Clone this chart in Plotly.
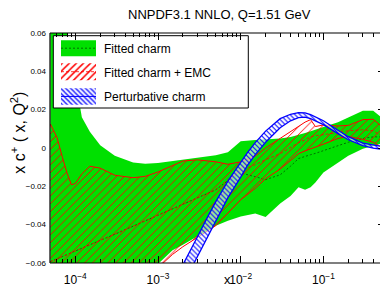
import plotly.graph_objects as go

# ---------------- data ----------------
X = [5e-5, 6e-5, 7e-5, 8e-5, 9e-5, 1e-4, 1.2e-4, 1.5e-4, 2e-4, 3e-4, 5e-4, 7e-4,
     1e-3, 1.5e-3, 2e-3, 3e-3, 5e-3, 7e-3,
     1e-2, 1.5e-2, 2e-2, 3e-2, 4e-2, 5e-2, 6e-2, 7e-2, 8e-2,
     0.1, 0.15, 0.2, 0.3, 0.4, 0.5, 0.6]

fitted_upper = [0.090, 0.080, 0.070, 0.060, 0.048, 0.036, 0.016, 0.0085, 0.0015, -0.0040, -0.0075, -0.0082,
                -0.0078, -0.0068, -0.0062, -0.0052, -0.0038, -0.0022,
                0.0035, 0.0042, 0.0045, 0.0050, 0.0058, 0.0068, 0.0078, 0.0088, 0.0095,
                0.0110, 0.0135, 0.0160, 0.0195, 0.0195, 0.0160, 0.0120]
fitted_lower = [-0.090, -0.090, -0.090, -0.090, -0.090, -0.088, -0.086, -0.084, -0.080, -0.075, -0.070, -0.065,
                -0.0605, -0.0534, -0.0505, -0.0463, -0.0405, -0.0380,
                -0.0358, -0.0342, -0.0360, -0.0290, -0.0250, -0.0205, -0.0218, -0.0205, -0.0180,
                -0.0128, -0.0077, -0.0040, -0.0004, 0.0012, 0.0022, 0.0028]
fitted_central = [-0.0593, -0.0578, -0.0567, -0.0557, -0.0546, -0.0538, -0.0524, -0.0505, -0.0482, -0.0450, -0.0408, -0.0379,
                  -0.0351, -0.0317, -0.0293, -0.0262, -0.0218, -0.0170,
                  -0.0130, -0.0150, -0.0165, -0.0140, -0.0095, -0.0055, -0.0042, -0.0035, -0.0028,
                  -0.0015, 0.0012, 0.0030, 0.0050, 0.0058, 0.0060, 0.0058]

emc_upper = [0.0125, 0.0055, -0.0050, -0.0135, -0.0192, -0.0185, -0.0135, -0.0095, -0.0105, -0.0142, -0.0155, -0.0148,
             -0.0125, -0.0090, -0.0068, -0.0062, -0.0072, -0.0085,
             -0.0072, -0.0042, 0.0000, 0.0050, 0.0085, 0.0112, 0.0135, 0.0148, 0.0112,
             0.0120, 0.0115, 0.0118, 0.0148, 0.0150, 0.0115, 0.0095]
emc_lower = [-0.090, -0.090, -0.090, -0.090, -0.090, -0.088, -0.086, -0.084, -0.080, -0.076, -0.072, -0.067,
             -0.0625, -0.0555, -0.0515, -0.0468, -0.0405, -0.0340,
             -0.0270, -0.0210, -0.0160, -0.0110, -0.0065, -0.0030, -0.0015, -0.0005, 0.0005,
             0.0020, 0.0050, 0.0060, 0.0045, 0.0030, 0.0005, -0.0020]
emc_central = [-0.0593, -0.0578, -0.0567, -0.0557, -0.0546, -0.0538, -0.0524, -0.0505, -0.0482, -0.0450, -0.0408, -0.0379,
               -0.0351, -0.0317, -0.0293, -0.0262, -0.0218, -0.0165,
               -0.0118, -0.0087, -0.0061, -0.0030, 0.0002, 0.0028, 0.0043, 0.0059, 0.0064,
               0.0069, 0.0080, 0.0090, 0.0095, 0.0090, 0.0064, 0.0049]

XP = [2e-3, 2.5e-3, 3e-3, 4e-3, 5e-3, 7e-3, 1e-2, 1.2e-2, 1.5e-2, 2e-2, 3e-2, 4e-2,
      5e-2, 6e-2, 7e-2, 0.1, 0.15, 0.2, 0.3, 0.4, 0.5, 0.6]
pert_upper = [-0.0609, -0.0531, -0.0463, -0.0358, -0.0280, -0.0173, -0.0071, -0.0025, 0.0028, 0.0088, 0.0153, 0.0176,
              0.0185, 0.0183, 0.0174, 0.0142, 0.0093, 0.0059, 0.0025, 0.0015, 0.0009, 0.0007]
pert_lower = [-0.0713, -0.0632, -0.0562, -0.0460, -0.0377, -0.0259, -0.0152, -0.0092, -0.0035, 0.0030, 0.0106, 0.0142,
              0.0158, 0.0161, 0.0153, 0.0122, 0.0075, 0.0043, 0.0012, -0.0001, -0.0006, -0.0009]

x_major = [1e-4, 1e-3, 1e-2, 1e-1]
x_major_text = ["10<sup>−4</sup>", "10<sup>−3</sup>", "10<sup>−2</sup>", "10<sup>−1</sup>"]
y_major = [-0.06, -0.04, -0.02, 0.0, 0.02, 0.04, 0.06]
y_major_text = ["−0.06", "−0.04", "−0.02", "0", "0.02", "0.04", "0.06"]
legend_labels = ["Fitted charm", "Fitted charm + EMC", "Perturbative charm"]

TITLE = "NNPDF3.1 NNLO, Q=1.51 GeV"
YTITLE = "x c<sup>+</sup> ( x, Q<sup>2</sup>)"
XTITLE = "x"

# ---------------- styles / layout geometry ----------------
GREEN = "#00e000"
DKGREEN = "#007000"
RED = "#ff0000"
BLUE = "#0000ff"
FONT = "Liberation Sans, Arial, sans-serif"

# the page body has an 8px default margin, so the figure sits at (8, 8) in the window
OFF = 8
WIN_W, WIN_H = 388, 286
W, H = WIN_W - OFF, WIN_H - OFF
# plot area in window pixels
PL, PR, PT, PB = 50.0, 388.0, 33.3, 263.3
pw, ph = PR - PL, PB - PT


def paper_x(px):
    return (px - PL) / pw


def paper_y(py):
    return (PB - py) / ph


def band(xs, lo, hi):
    return list(xs) + list(xs)[::-1], list(hi) + list(lo)[::-1]


fig = go.Figure()

# Fitted charm (green)
bx, by = band(X, fitted_lower, fitted_upper)
fig.add_trace(go.Scatter(x=bx, y=by, fill="toself", fillcolor=GREEN, mode="lines",
                         line=dict(width=0), hoverinfo="skip", showlegend=False))
fig.add_trace(go.Scatter(x=X, y=fitted_central, mode="lines",
                         line=dict(color=DKGREEN, width=1, dash="2px,2px"), showlegend=False))

# Fitted charm + EMC (red hatch)
rx, ry = band(X, emc_lower, emc_upper)
fig.add_trace(go.Scatter(x=rx, y=ry, fill="toself", fillcolor="rgba(0,0,0,0)", mode="lines",
                         line=dict(width=0),
                         fillpattern=dict(shape="/", fgcolor=RED, bgcolor="rgba(0,0,0,0)",
                                          size=5.5, solidity=0.17, fillmode="replace"),
                         hoverinfo="skip", showlegend=False))
for ys in (emc_upper, emc_lower):
    fig.add_trace(go.Scatter(x=X, y=ys, mode="lines", line=dict(color=RED, width=1), showlegend=False))
fig.add_trace(go.Scatter(x=X, y=emc_central, mode="lines",
                         line=dict(color=RED, width=0.8, dash="3px,2px"), showlegend=False))

# Perturbative charm (blue hatch)
bpx, bpy = band(XP, pert_lower, pert_upper)
fig.add_trace(go.Scatter(x=bpx, y=bpy, fill="toself", fillcolor="rgba(0,0,0,0)", mode="lines",
                         line=dict(width=0),
                         fillpattern=dict(shape="\\", fgcolor=BLUE, bgcolor="rgba(255,255,255,0.6)",
                                          size=3.5, solidity=0.3, fillmode="replace"),
                         hoverinfo="skip", showlegend=False))
for ys in (pert_upper, pert_lower):
    fig.add_trace(go.Scatter(x=XP, y=ys, mode="lines", line=dict(color=BLUE, width=1.3), showlegend=False))

# ---------------- hand-drawn legend on an overlay pixel axis ----------------
LX0, LX1, LY0, LY1 = 53.3, 248.3, 36.0, 108.3
SW_X0, SW_X1 = 61.0, 96.0
rows = [(40.5, 56.5), (63.5, 80.5), (88.5, 105.0)]
fig.add_trace(go.Scatter(x=[LX0, LX1, LX1, LX0, LX0], y=[LY0, LY0, LY1, LY1, LY0],
                         xaxis="x2", yaxis="y2", fill="toself", fillcolor="white", mode="lines",
                         line=dict(color="black", width=1), hoverinfo="skip", showlegend=False))
sw_styles = [
    dict(fillcolor=GREEN),
    dict(fillcolor="rgba(0,0,0,0)", fillpattern=dict(shape="/", fgcolor=RED, bgcolor="white",
                                                     size=5, solidity=0.3, fillmode="replace")),
    dict(fillcolor="rgba(0,0,0,0)", fillpattern=dict(shape="\\", fgcolor=BLUE, bgcolor="white",
                                                     size=3.5, solidity=0.35, fillmode="replace")),
]
mid_styles = [dict(color=DKGREEN, width=1, dash="2px,2px"),
              dict(color=RED, width=0.8, dash="3px,2px"),
              dict(color=BLUE, width=1)]
for (y0, y1), st, ms, lab in zip(rows, sw_styles, mid_styles, legend_labels):
    fig.add_trace(go.Scatter(x=[SW_X0, SW_X1, SW_X1, SW_X0, SW_X0], y=[y0, y0, y1, y1, y0],
                             xaxis="x2", yaxis="y2", fill="toself", mode="lines", line=dict(width=0),
                             hoverinfo="skip", showlegend=False, **st))
    ym = (y0 + y1) / 2
    fig.add_trace(go.Scatter(x=[SW_X0, SW_X1], y=[ym, ym], xaxis="x2", yaxis="y2", mode="lines",
                             line=ms, hoverinfo="skip", showlegend=False))
    fig.add_annotation(x=101.7, y=ym + 1, xref="x2", yref="y2", text=lab, showarrow=False,
                       xanchor="left", yanchor="middle", font=dict(family=FONT, size=12, color="black"))

# empty traces so that the label-only / top-tick overlay axes get drawn
fig.add_trace(go.Scatter(x=[None], y=[None], xaxis="x", yaxis="y3", mode="lines",
                         hoverinfo="skip", showlegend=False))
fig.add_trace(go.Scatter(x=[None], y=[None], xaxis="x3", yaxis="y", mode="lines",
                         hoverinfo="skip", showlegend=False))

# ---------------- axes ----------------
x_minor = [m * 10 ** e for e in range(-5, 0) for m in range(2, 10) if 5e-5 <= m * 10 ** e <= 0.6]
xr = [-4.306, -0.219]
yr = [-0.06, 0.06]
AXLINE = "rgba(0,0,0,0)"
xminor = dict(tickmode="array", tickvals=x_minor, ticks="inside", ticklen=4, tickcolor="black", showgrid=False)
yminor = dict(dtick=0.005, tick0=0, ticks="inside", ticklen=5, tickcolor="black", showgrid=False)

fig.update_layout(
    width=W, height=H,
    margin=dict(l=PL - OFF, r=WIN_W - PR, t=PT - OFF, b=WIN_H - PB, pad=0, autoexpand=False),
    paper_bgcolor="white", plot_bgcolor="white",
    showlegend=False,
    # bottom axis: labels + inside ticks
    xaxis=dict(type="log", range=xr, tickmode="array", tickvals=x_major, ticktext=x_major_text,
               ticks="inside", ticklen=7, tickwidth=1, tickcolor="black",
               showline=True, linecolor=AXLINE, linewidth=1,
               showgrid=False, zeroline=False, layer="above traces",
               tickfont=dict(family=FONT, size=12, color="black"), ticklabelstandoff=6,
               minor=xminor),
    # right-side ticks (no labels) on the main y axis
    yaxis=dict(range=yr, side="right", tickmode="array", tickvals=y_major,
               ticks="inside", ticklen=10, tickwidth=1, tickcolor="black", showticklabels=False,
               showline=True, linecolor=AXLINE, linewidth=1,
               showgrid=False, zeroline=False, layer="above traces", minor=yminor),
    # left labels only
    yaxis3=dict(overlaying="y", anchor="x", side="left", range=yr, tickmode="array",
                tickvals=y_major, ticktext=y_major_text, ticks="", showgrid=False, zeroline=False,
                showline=False, tickfont=dict(family=FONT, size=8, color="black"),
                ticklabelstandoff=3, fixedrange=True),
    # top ticks (no labels)
    xaxis3=dict(overlaying="x", anchor="y", side="top", type="log", range=xr, tickmode="array",
                tickvals=x_major, ticks="inside", ticklen=7, tickwidth=1, tickcolor="black",
                showticklabels=False, showgrid=False, zeroline=False,
                showline=True, linecolor=AXLINE, linewidth=1,
                layer="above traces", minor=xminor, fixedrange=True),
    xaxis2=dict(overlaying="x", anchor="y2", range=[PL, PR], visible=False, fixedrange=True),
    yaxis2=dict(overlaying="y", anchor="x2", range=[PB, PT], visible=False, fixedrange=True),
)

# frame (left, bottom, top)
for x0, y0, x1, y1 in [(0, 0, 0, 1), (0, 0, 1, 0), (0, 1, 1, 1)]:
    fig.add_shape(type="line", xref="paper", yref="paper", x0=x0, y0=y0, x1=x1, y1=y1,
                  line=dict(color="black", width=1.2), layer="above")

# titles
fig.add_annotation(x=0.5, y=paper_y(15), xref="paper", yref="paper", text=TITLE,
                   showarrow=False, xanchor="center", yanchor="middle",
                   font=dict(family=FONT, size=13, color="black"))
fig.add_annotation(x=paper_x(18), y=paper_y(133), xref="paper", yref="paper", text=YTITLE,
                   showarrow=False, textangle=-90, xanchor="center", yanchor="middle",
                   font=dict(family=FONT, size=16, color="black"))
fig.add_annotation(x=paper_x(227), y=paper_y(280), xref="paper", yref="paper", text=XTITLE,
                   showarrow=False, xanchor="center", yanchor="middle",
                   font=dict(family=FONT, size=13, color="black"))

fig.write_html("out.html")
